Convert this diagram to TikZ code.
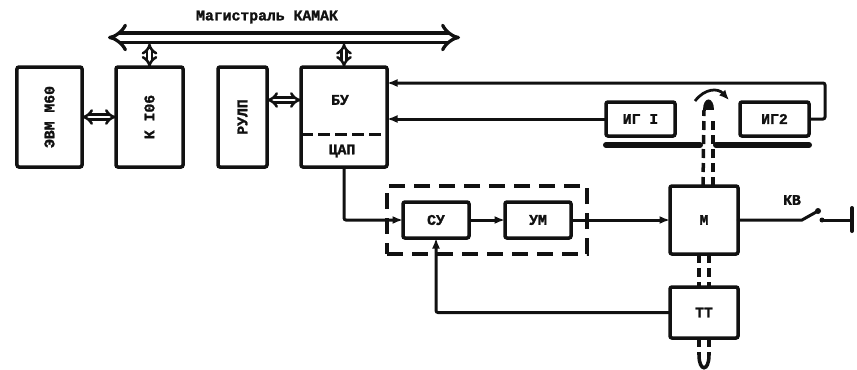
\documentclass[tikz,border=0pt]{standalone}
\usepackage{fontspec}
\setmonofont[BoldFeatures={FakeBold=1.6}]{Liberation Mono}
\usetikzlibrary{arrows.meta,positioning,fit,calc}
\definecolor{ink}{HTML}{111111}
\tikzset{
  every node/.style={font=\ttfamily\bfseries\fontsize{8.4}{10}\selectfont, text=ink},
  box/.style={draw=ink, line width=0.7mm, rounded corners=0.4mm, inner sep=0pt, outer sep=0pt, align=center},
  arr/.style={-{Latex[length=2.1mm, width=1.6mm]}, line width=0.6mm, draw=ink},
  wire/.style={line width=0.6mm, draw=ink, line cap=round},
  darr/.style={{Implies}-{Implies}, double=white, draw=ink, line width=0.5mm, double distance=0.5mm},
  busarr/.style={{Implies}-{Implies}, double=white, draw=ink, line width=0.65mm, double distance=1.2mm},
  dashbox/.style={draw=ink, line width=0.7mm, dash pattern=on 3.2mm off 1.8mm, inner sep=3.2mm, outer sep=0pt},
  dashwire/.style={draw=ink, line width=0.6mm, dash pattern=on 2.4mm off 1mm},
  shaft/.style={draw=ink, line width=0.7mm, dash pattern=on 1.8mm off 1mm},
  lbl/.style={inner sep=0pt},
  vlbl/.style={lbl, rotate=90},
  bar/.style={draw=ink, line width=1.2mm, line cap=round},
}
\begin{document}
\begin{tikzpicture}[x=0.2mm, y=-0.2mm]
\useasboundingbox (0,0) rectangle (857,370);

% upper row
\node[box, minimum width=13mm, minimum height=20mm] (evm) at (49.5,117) {};
\node[box, minimum width=13.4mm, minimum height=20mm, right=6.8mm of evm] (kio) {};
\node[box, minimum width=9.8mm, minimum height=20mm, right=7mm of kio] (rulp) {};
\node[box, minimum width=17.2mm, minimum height=20mm, right=6.8mm of rulp] (bu) {};
\node[vlbl] (evmlbl) at (evm) {ЭВМ М60};
\node[vlbl] (kiolbl) at (kio) {К I06};
\node[vlbl] (rulplbl) at (rulp) {РУЛП};
\node[lbl] (bulbl) at (340,100) {БУ};
\node[lbl] (daclbl) at (342,151) {ЦАП};
\coordinate (dacL) at ($(bu.south west)!0.33!(bu.north west)$);
\coordinate (dacR) at ($(bu.south east)!0.33!(bu.north east)$);
\draw[dashwire] (dacL) -- (dacR);

% bus
\coordinate (busL) at (108,37.5);
\coordinate (busR) at (460,37.5);
\node[lbl] (buslbl) at (267,17) {Магистраль КАМАК};
\draw[busarr] (busL) -- (busR);
\draw[darr] (kio.north) -- ($(kio.north |- busL)+(0,6)$);
\draw[darr] (bu.north) -- ($(bu.north |- busL)+(0,6)$);
\draw[darr] (evm.east) -- (kio.west);
\draw[darr] (rulp.east |- 0,100) -- (bu.west |- 0,100);

% sensors
\node[box, minimum width=13.8mm, minimum height=6.8mm] (igone) at (640.5,119) {ИГ I};
\node[box, minimum width=13.8mm, minimum height=6.8mm, right=13mm of igone] (igtwo) {ИГ2};
\coordinate (igbend) at (825,83);
\draw[arr] (igone.west) -- (igone.west -| bu.east);
\draw[arr, rounded corners=0.4mm] (igtwo.east) -| (igbend) -- (igbend -| bu.east);

% regulator
\node[box, minimum width=13.2mm, minimum height=7.2mm] (su) at (436,220) {СУ};
\node[box, minimum width=13.2mm, minimum height=7.2mm, right=7.2mm of su] (um) {УМ};
\node[dashbox, fit=(su)(um)] (reg) {};

% motor and sensor
\node[box, minimum width=13.6mm, minimum height=13.6mm] (mot) at (704,220) {М};
\node[box, minimum width=13.6mm, minimum height=10.2mm, below=6.6mm of mot] (tt) {ТТ};
\draw[arr, rounded corners=0.4mm] (bu.south) |- (su.west);
\draw[arr] (su) -- (um);
\draw[arr] (um) -- (mot);
\draw[arr, rounded corners=0.4mm] (tt.west) -| (su.south);

% contactor
\coordinate (kvA) at (802,220);
\coordinate (kvB) at (818,211);
\coordinate (kvC) at (822,220);
\coordinate (kvD) at (852,220);
\node[lbl] (kvlbl) at (792,200) {КВ};
\draw[wire] (mot.east) -- (kvA) -- (kvB);
\fill[ink] (kvB) circle (3);
\fill[ink] (kvC) circle (2.5);
\draw[wire] (kvC) -- (kvD);
\draw[line width=0.8mm, draw=ink, line cap=round] (852,208) -- (852,231);

% shaft
\coordinate (shaftL) at (704,110);
\coordinate (shaftR) at (713,117);
\coordinate (shaftU) at (699,355);
\coordinate (shaftV) at (709,355);
\draw[bar] (igone.south west |- 0,145) -- (700,145);
\draw[bar] (716,145) -- (igtwo.south east |- 0,145);
\draw[shaft] ($(mot.north)+(-1,0)$) -- (shaftL);
\draw[shaft] ($(mot.north)+(9,0)$) -- (shaftR);
\draw[shaft] (699,254) -- (699,287);
\draw[shaft] (709,254) -- (709,287);
\draw[shaft] (699,338) -- (shaftU);
\draw[shaft] (709,338) -- (shaftV);
\draw[wire, line width=0.7mm] (shaftU) .. controls (699,372) and (709,372) .. (shaftV);
\fill[ink] (703,110) .. controls (703,96) and (714,96) .. (714,110) -- cycle;
\draw[-{Latex[length=2mm, width=1.7mm]}, line width=0.55mm, draw=ink] (695,101) .. controls (705,88) and (718,88) .. (729,100);

\end{tikzpicture}
\end{document}
